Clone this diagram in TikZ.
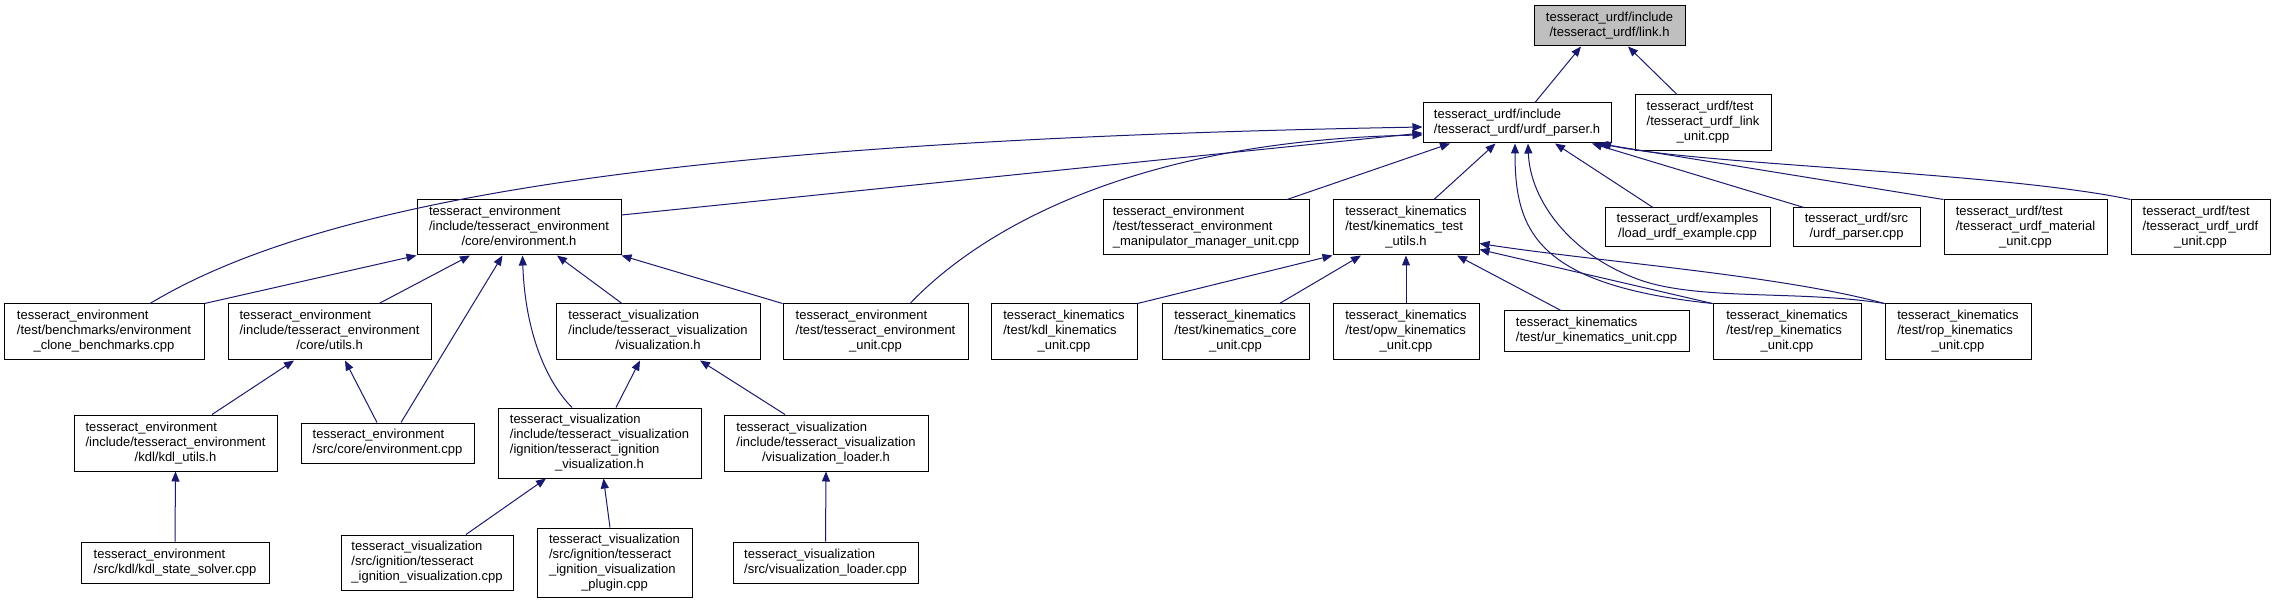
\documentclass[tikz,border=0pt]{standalone}
\usepackage{fontspec}
\setmainfont{Liberation Sans}
\usetikzlibrary{arrows.meta}
\definecolor{edgec}{RGB}{25,25,112}
\definecolor{linkgray}{RGB}{191,191,191}
\newcommand{\lblii}[2]{\begin{tabular}{@{}l@{}}#1\\\multicolumn{1}{@{}c@{}}{#2}\end{tabular}}
\newcommand{\lbliii}[3]{\begin{tabular}{@{}l@{}}#1\\#2\\\multicolumn{1}{@{}c@{}}{#3}\end{tabular}}
\newcommand{\lbliv}[4]{\begin{tabular}{@{}l@{}}#1\\#2\\#3\\\multicolumn{1}{@{}c@{}}{#4}\end{tabular}}
\begin{document}
\begin{tikzpicture}[x=1pt,y=-1pt,
  box/.style={draw=black, line width=1pt, fill=white, inner sep=0pt, font=\fontsize{13}{15}\selectfont},
  edge/.style={draw=edgec, line width=1pt, >={Triangle[length=10pt,width=8pt]}, <-}]
\useasboundingbox (0,0) rectangle (2275,601);
% row 0
\node[box, fill=linkgray, minimum width=151pt, minimum height=40pt] (link) at (1609.5,26) {\lblii{tesseract\_urdf/include}{/tesseract\_urdf/link.h}};
% row 1
\node[box, minimum width=188pt, minimum height=40pt] (parser) at (1517,123) {\lblii{tesseract\_urdf/include}{/tesseract\_urdf/urdf\_parser.h}};
\node[box, minimum width=136pt, minimum height=56pt] (linkunit) at (1703,123) {\lbliii{tesseract\_urdf/test}{/tesseract\_urdf\_link}{\_unit.cpp}};
% row 2
\node[box, minimum width=204pt, minimum height=55pt] (env) at (519,227.5) {\lbliii{tesseract\_environment}{/include/tesseract\_environment}{/core/environment.h}};
\node[box, minimum width=206pt, minimum height=55pt] (manip) at (1206,227.5) {\lbliii{tesseract\_environment}{/test/tesseract\_environment}{\_manipulator\_manager\_unit.cpp}};
\node[box, minimum width=146pt, minimum height=55pt] (kinutils) at (1406,227.5) {\lbliii{tesseract\_kinematics}{/test/kinematics\_test}{\_utils.h}};
\node[box, minimum width=165pt, minimum height=39pt] (loadex) at (1687.5,227.5) {\lblii{tesseract\_urdf/examples}{/load\_urdf\_example.cpp}};
\node[box, minimum width=127pt, minimum height=39pt] (urdfsrc) at (1856.5,227.5) {\lblii{tesseract\_urdf/src}{/urdf\_parser.cpp}};
\node[box, minimum width=163pt, minimum height=55pt] (material) at (2025.5,227.5) {\lbliii{tesseract\_urdf/test}{/tesseract\_urdf\_material}{\_unit.cpp}};
\node[box, minimum width=139pt, minimum height=55pt] (urdfunit) at (2200.5,227.5) {\lbliii{tesseract\_urdf/test}{/tesseract\_urdf\_urdf}{\_unit.cpp}};
% row 3
\node[box, minimum width=200pt, minimum height=56pt] (clone) at (104,332) {\lbliii{tesseract\_environment}{/test/benchmarks/environment}{\_clone\_benchmarks.cpp}};
\node[box, minimum width=203pt, minimum height=56pt] (utils) at (329.5,332) {\lbliii{tesseract\_environment}{/include/tesseract\_environment}{/core/utils.h}};
\node[box, minimum width=204pt, minimum height=56pt] (vis) at (658,332) {\lbliii{tesseract\_visualization}{/include/tesseract\_visualization}{/visualization.h}};
\node[box, minimum width=185pt, minimum height=56pt] (envunit) at (875.5,332) {\lbliii{tesseract\_environment}{/test/tesseract\_environment}{\_unit.cpp}};
\node[box, minimum width=146pt, minimum height=56pt] (kdlkin) at (1064,332) {\lbliii{tesseract\_kinematics}{/test/kdl\_kinematics}{\_unit.cpp}};
\node[box, minimum width=147pt, minimum height=56pt] (kincore) at (1235.5,332) {\lbliii{tesseract\_kinematics}{/test/kinematics\_core}{\_unit.cpp}};
\node[box, minimum width=146pt, minimum height=56pt] (opw) at (1406,332) {\lbliii{tesseract\_kinematics}{/test/opw\_kinematics}{\_unit.cpp}};
\node[box, minimum width=185pt, minimum height=41pt] (ur) at (1596.5,331.5) {\lblii{tesseract\_kinematics}{/test/ur\_kinematics\_unit.cpp}};
\node[box, minimum width=148pt, minimum height=56pt] (rep) at (1787,332) {\lbliii{tesseract\_kinematics}{/test/rep\_kinematics}{\_unit.cpp}};
\node[box, minimum width=146pt, minimum height=56pt] (rop) at (1958,332) {\lbliii{tesseract\_kinematics}{/test/rop\_kinematics}{\_unit.cpp}};
% row 4
\node[box, minimum width=203pt, minimum height=56pt] (kdlutils) at (175.5,443) {\lbliii{tesseract\_environment}{/include/tesseract\_environment}{/kdl/kdl\_utils.h}};
\node[box, minimum width=173pt, minimum height=40pt] (envcpp) at (387.5,443) {\lblii{tesseract\_environment}{/src/core/environment.cpp}};
\node[box, minimum width=203pt, minimum height=70pt] (ignh) at (599.5,443) {\lbliv{tesseract\_visualization}{/include/tesseract\_visualization}{/ignition/tesseract\_ignition}{\_visualization.h}};
\node[box, minimum width=204pt, minimum height=56pt] (loaderh) at (826,443) {\lbliii{tesseract\_visualization}{/include/tesseract\_visualization}{/visualization\_loader.h}};
% row 5
\node[box, minimum width=188pt, minimum height=41pt] (kdlsolver) at (175,562.5) {\lblii{tesseract\_environment}{/src/kdl/kdl\_state\_solver.cpp}};
\node[box, minimum width=172pt, minimum height=55pt] (igncpp) at (427,562.5) {\lbliii{tesseract\_visualization}{/src/ignition/tesseract}{\_ignition\_visualization.cpp}};
\node[box, minimum width=155pt, minimum height=69pt] (plugin) at (614.5,562.5) {\lbliv{tesseract\_visualization}{/src/ignition/tesseract}{\_ignition\_visualization}{\_plugin.cpp}};
\node[box, minimum width=185pt, minimum height=41pt] (loadercpp) at (825.5,562.5) {\lblii{tesseract\_visualization}{/src/visualization\_loader.cpp}};
% edges
\draw[edge] ([xshift=-28.5pt]link.south) -- ([xshift=18pt]parser.north);
\draw[edge] ([xshift=18.5pt]link.south) -- ([xshift=-26pt]linkunit.north);
\draw[edge] ([yshift=-10pt]parser.west) -- ([yshift=12.5pt]env.east);
\draw[edge] ([yshift=-4pt]parser.west) .. controls (700,140) and (330,195) .. ([xshift=46pt]clone.north);
\draw[edge] ([yshift=-12pt]parser.west) .. controls (1150,140) and (990,220) .. ([xshift=34.5pt]envunit.north);
\draw[edge] ([xshift=-67pt]parser.south) -- ([xshift=81pt]manip.north);
\draw[edge] ([xshift=-21.5pt]parser.south) -- ([xshift=28pt]kinutils.north);
\draw[edge] ([xshift=38pt]parser.south) -- ([xshift=-34.5pt]loadex.north);
\draw[edge] ([xshift=75pt]parser.south) -- ([xshift=-52.5pt]urdfsrc.north);
\draw[edge] ([xshift=81pt]parser.south) -- (material.north west);
\draw[edge] ([xshift=84pt]parser.south) .. controls (1700,165) and (2000,172) .. (urdfunit.north west);
\draw[edge] ([xshift=-2pt]parser.south) .. controls (1515,230) and (1535,285) .. (rep.north west);
\draw[edge] ([xshift=11pt]parser.south) .. controls (1530,200) and (1570,255) .. (1640,280) .. controls (1700,301) and (1800,290) .. (rop.north west);
\draw[edge] (env.south west) -- (clone.north east);
\draw[edge] ([xshift=-49pt]env.south) -- ([xshift=49.5pt]utils.north);
\draw[edge] ([xshift=-16.5pt]env.south) -- ([xshift=13.5pt]envcpp.north);
\draw[edge] ([xshift=3.5pt]env.south) .. controls (525,330) and (545,380) .. ([xshift=-27.5pt]ignh.north);
\draw[edge] ([xshift=38pt]env.south) -- ([xshift=-36pt]vis.north);
\draw[edge] (env.south east) -- (envunit.north west);
\draw[edge] ([xshift=-35.5pt]utils.south) -- ([xshift=36.5pt]kdlutils.north);
\draw[edge] ([xshift=15.5pt]utils.south) -- ([xshift=-10.5pt]envcpp.north);
\draw[edge] ([xshift=-18pt]vis.south) -- ([xshift=16.5pt]ignh.north);
\draw[edge] ([xshift=42pt]vis.south) -- ([xshift=-41pt]loaderh.north);
\draw[edge] (kdlutils.south) -- (kdlsolver.north);
\draw[edge] ([xshift=-53.5pt]ignh.south) -- ([xshift=39pt]igncpp.north);
\draw[edge] ([xshift=4pt]ignh.south) -- ([xshift=-4.5pt]plugin.north);
\draw[edge] (loaderh.south) -- (loadercpp.north);
\draw[edge] (kinutils.south west) -- (kdlkin.north east);
\draw[edge] ([xshift=-45pt]kinutils.south) -- ([xshift=44pt]kincore.north);
\draw[edge] (kinutils.south) -- (opw.north);
\draw[edge] ([xshift=51pt]kinutils.south) -- ([xshift=-35.5pt]ur.north);
\draw[edge] ([yshift=-22pt]kinutils.east) -- (rep.north west);
\draw[edge] ([yshift=-16pt]kinutils.east) .. controls (1600,262) and (1780,275) .. (rop.north west);
\end{tikzpicture}
\end{document}
